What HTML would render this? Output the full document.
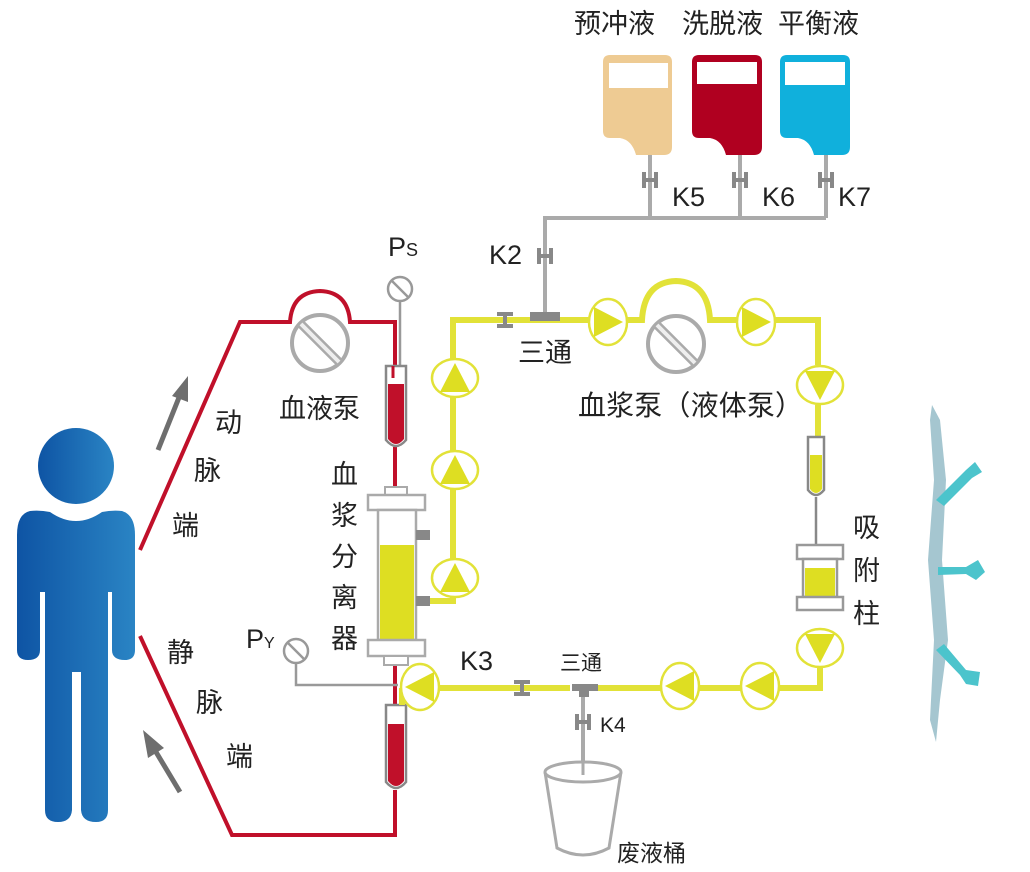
<!DOCTYPE html>
<html><head><meta charset="utf-8"><style>
html,body{margin:0;padding:0;background:#fff;}
svg{display:block;}
text{font-family:"Liberation Sans","Noto Sans CJK SC",sans-serif;fill:#222;}
</style></head><body>
<svg width="1030" height="872" viewBox="0 0 1030 872" xmlns="http://www.w3.org/2000/svg">
<defs>
<linearGradient id="pg" x1="0" x2="1"><stop offset="0" stop-color="#0e54a4"/><stop offset="1" stop-color="#2a84c4"/></linearGradient>
<g id="pu"><ellipse cx="0" cy="0" rx="19" ry="23" fill="#fff" stroke="#e2e238" stroke-width="2.5"/><polygon points="-14,-15 15,0 -14,15" fill="#dede22"/></g>
<g id="kc"><rect x="-2" y="-8" width="4" height="16" fill="#888"/><rect x="-8" y="-8" width="16" height="4" fill="#888"/><rect x="-8" y="4" width="16" height="4" fill="#888"/></g>
</defs>

<!-- person -->
<circle cx="76" cy="466" r="38" fill="url(#pg)"/>
<path d="M30 511 Q40 510 50 512 Q76 530 102 512 Q112 510 122 511 Q135 515 135 535 L135 650 Q135 660 125 660 Q112 660 112 650 L112 592 L108 592 L108 810 Q108 822 96 822 Q82 822 81 810 L81 672 L72 672 L72 810 Q71 822 58 822 Q45 822 45 810 L45 592 L40 592 L40 650 Q40 660 28 660 Q17 660 17 650 L17 535 Q17 514 30 511Z" fill="url(#pg)"/>

<!-- arrows -->
<line x1="158" y1="450" x2="180" y2="395" stroke="#6e6e6e" stroke-width="5"/>
<polygon points="188,376 172,396 188,402" fill="#6e6e6e"/>
<line x1="180" y1="792" x2="156" y2="752" stroke="#6e6e6e" stroke-width="5"/>
<polygon points="143,730 148,758 164,748" fill="#6e6e6e"/>

<!-- red circuit -->
<path d="M140 550 L240 322 L290 322 Q292 292 320 291 Q348 292 350 322 L395 322 L395 370" fill="none" stroke="#c0102a" stroke-width="4"/>
<line x1="395" y1="447" x2="395" y2="497" stroke="#c0102a" stroke-width="4"/>
<line x1="395" y1="665" x2="395" y2="705" stroke="#c0102a" stroke-width="4"/>
<path d="M395 790 L395 835 L232 835 L140 636" fill="none" stroke="#c0102a" stroke-width="4"/>

<!-- blood pump -->
<circle cx="320" cy="343" r="28" fill="#fff" stroke="#aaa" stroke-width="4"/>
<line x1="301" y1="324" x2="339" y2="362" stroke="#aaa" stroke-width="9"/>
<line x1="301" y1="324" x2="339" y2="362" stroke="#eee" stroke-width="4"/>

<!-- Ps gauge -->
<line x1="400" y1="300" x2="400" y2="372" stroke="#999" stroke-width="2.5"/>
<circle cx="400" cy="289" r="12" fill="#fff" stroke="#999" stroke-width="2.5"/>
<line x1="392" y1="281" x2="408" y2="297" stroke="#999" stroke-width="2.5"/>

<!-- drip chambers -->
<path d="M386 366 L406 366 L406 440 Q396 452 386 440Z" fill="#fff" stroke="#888" stroke-width="2.5"/>
<path d="M388 384 L404 384 L404 439 Q396 449 388 439Z" fill="#c0102a"/>
<line x1="393" y1="366" x2="393" y2="378" stroke="#c0102a" stroke-width="3"/>
<path d="M386 705 L406 705 L406 782 Q396 794 386 782Z" fill="#fff" stroke="#888" stroke-width="2.5"/>
<path d="M388 724 L404 724 L404 781 Q396 791 388 781Z" fill="#c0102a"/>

<!-- Py gauge -->
<path d="M296 662 L296 685 L398 685" fill="none" stroke="#999" stroke-width="2.5"/>
<circle cx="296" cy="651" r="12" fill="#fff" stroke="#999" stroke-width="2.5"/>
<line x1="288" y1="643" x2="304" y2="659" stroke="#999" stroke-width="2.5"/>

<!-- separator -->
<rect x="385" y="487" width="22" height="8" fill="#fff" stroke="#aaa" stroke-width="2"/>
<rect x="368" y="495" width="57" height="15" fill="#fff" stroke="#aaa" stroke-width="2.5"/>
<rect x="378" y="510" width="38" height="130" fill="#fff" stroke="#aaa" stroke-width="2.5"/>
<rect x="380" y="545" width="34" height="94" fill="#dede22"/>
<rect x="368" y="640" width="57" height="16" fill="#fff" stroke="#aaa" stroke-width="2.5"/>
<rect x="384" y="656" width="24" height="9" fill="#fff" stroke="#aaa" stroke-width="2"/>
<rect x="416" y="530" width="14" height="10" fill="#888"/>
<rect x="416" y="596" width="14" height="10" fill="#888"/>

<!-- yellow circuit -->
<g fill="none" stroke="#e2e238" stroke-width="6">
<path d="M430 601 L453 601 L453 320 L590 320"/>
<path d="M626 320 L642 320 Q644 282 676 281 Q708 282 710 320 L737 320"/>
<path d="M773 320 L818 320 L818 365"/>
<line x1="818" y1="405" x2="818" y2="440"/>
<path d="M820 668 L820 688 L594 688"/>
<path d="M570 688 L438 688"/>
<path d="M402 688 L402 705"/>
</g>
<use href="#pu" transform="translate(455,378) rotate(-90)"/>
<use href="#pu" transform="translate(455,470) rotate(-90)"/>
<use href="#pu" transform="translate(455,578) rotate(-90)"/>
<use href="#pu" transform="translate(608,322)"/>
<use href="#pu" transform="translate(756,322)"/>
<use href="#pu" transform="translate(820,385) rotate(90)"/>
<use href="#pu" transform="translate(820,648) rotate(90)"/>
<use href="#pu" transform="translate(760,686) rotate(180)"/>
<use href="#pu" transform="translate(680,686) rotate(180)"/>
<use href="#pu" transform="translate(420,687) rotate(180)"/>

<!-- plasma pump -->
<circle cx="676" cy="344" r="28" fill="#fff" stroke="#aaa" stroke-width="4"/>
<line x1="657" y1="325" x2="695" y2="363" stroke="#aaa" stroke-width="9"/>
<line x1="657" y1="325" x2="695" y2="363" stroke="#eee" stroke-width="4"/>

<!-- right drip & column -->
<path d="M808 437 L824 437 L824 490 Q816 500 808 490Z" fill="#fff" stroke="#888" stroke-width="2.5"/>
<path d="M810 455 L822 455 L822 489 Q816 497 810 489Z" fill="#dede22"/>
<line x1="816" y1="497" x2="816" y2="545" stroke="#888" stroke-width="2.5"/>
<rect x="797" y="545" width="46" height="14" fill="#fff" stroke="#999" stroke-width="2.5"/>
<rect x="803" y="559" width="34" height="38" fill="#fff" stroke="#999" stroke-width="2.5"/>
<rect x="805" y="568" width="30" height="28" fill="#dede22"/>
<rect x="797" y="597" width="46" height="13" fill="#fff" stroke="#999" stroke-width="2.5"/>

<!-- K3 clamp, tees -->
<use href="#kc" transform="translate(522,688)"/>
<use href="#kc" transform="translate(505,320)"/>
<rect x="572" y="684" width="26" height="7" fill="#888"/>
<rect x="579" y="691" width="10" height="6" fill="#888"/>
<rect x="530" y="312" width="30" height="9" fill="#888"/>

<!-- gray manifold -->
<g stroke="#aaa" stroke-width="4" fill="none">
<path d="M545 312 L545 218 L826 218"/>
<line x1="650" y1="155" x2="650" y2="218"/>
<line x1="740" y1="155" x2="740" y2="218"/>
<line x1="826" y1="155" x2="826" y2="218"/>
<line x1="583" y1="697" x2="583" y2="765"/>
</g>
<use href="#kc" transform="translate(545,256) rotate(90)"/>
<use href="#kc" transform="translate(650,180) rotate(90)"/>
<use href="#kc" transform="translate(740,180) rotate(90)"/>
<use href="#kc" transform="translate(826,180) rotate(90)"/>
<use href="#kc" transform="translate(583,722) rotate(90)"/>

<!-- bags -->
<g>
<path d="M610 55 L665 55 Q672 55 672 62 L672 147 Q672 155 664 155 L636 155 Q632 140 620 138 L610 138 Q603 138 603 131 L603 62 Q603 55 610 55Z" fill="#eecb93"/>
<rect x="609" y="63" width="59" height="25" fill="#fff"/>
<path d="M699 55 L755 55 Q762 55 762 62 L762 147 Q762 155 754 155 L726 155 Q722 140 710 138 L699 138 Q692 138 692 131 L692 62 Q692 55 699 55Z" fill="#b00020"/>
<rect x="697" y="62" width="60" height="22" fill="#fff"/>
<path d="M787 55 L843 55 Q850 55 850 62 L850 147 Q850 155 842 155 L814 155 Q810 140 798 138 L787 138 Q780 138 780 131 L780 62 Q780 55 787 55Z" fill="#10b0dc"/>
<rect x="785" y="62" width="60" height="23" fill="#fff"/>
</g>

<!-- waste bucket -->
<path d="M545 772 L557 848 Q583 862 609 848 L621 772" fill="#fff" stroke="#aaa" stroke-width="3"/>
<ellipse cx="583" cy="772" rx="38" ry="10" fill="#fff" stroke="#aaa" stroke-width="3"/>
<line x1="583" y1="740" x2="583" y2="775" stroke="#aaa" stroke-width="3"/>

<!-- right artifact -->
<path d="M932 405 L940 420 L946 480 L942 560 L948 640 L940 700 L936 742 L930 720 L934 640 L928 560 L934 480 L930 420Z" fill="#a5c6d0"/>
<g fill="#4cc4cc">
<path d="M936 500 L966 470 L975 462 L982 472 L972 478 L944 506Z"/>
<path d="M938 567 L966 567 L978 560 L985 572 L976 580 L966 574 L938 575Z"/>
<path d="M936 650 L944 644 L966 670 L980 672 L978 686 L966 684 L960 675Z"/>
</g>

<!-- labels -->
<g font-size="27">
<text x="574" y="33">预冲液</text>
<text x="682" y="33">洗脱液</text>
<text x="778" y="33">平衡液</text>
<text x="279" y="418">血液泵</text>
<text x="578" y="415" font-size="28" textLength="225" lengthAdjust="spacing">血浆泵（液体泵）</text>
<text x="518" y="362">三通</text>
<text x="215" y="432">动</text>
<text x="194" y="480">脉</text>
<text x="172" y="535">端</text>
<text x="167" y="662">静</text>
<text x="196" y="712">脉</text>
<text x="226" y="766">端</text>
<text x="331" y="484">血</text>
<text x="331" y="525">浆</text>
<text x="331" y="566">分</text>
<text x="331" y="607">离</text>
<text x="331" y="648">器</text>
<text x="853" y="537">吸</text>
<text x="853" y="580">附</text>
<text x="853" y="623">柱</text>
<text x="672" y="206">K5</text>
<text x="762" y="206">K6</text>
<text x="838" y="206">K7</text>
<text x="489" y="264">K2</text>
<text x="460" y="670">K3</text>
</g>
<text x="560" y="670" font-size="21">三通</text>
<text x="600" y="732" font-size="21">K4</text>
<text x="617" y="861" font-size="23">废液桶</text>
<text x="388" y="256" font-size="27">P<tspan font-size="18">S</tspan></text>
<text x="246" y="648" font-size="27">P<tspan font-size="16">Y</tspan></text>
</svg>
</body></html>
